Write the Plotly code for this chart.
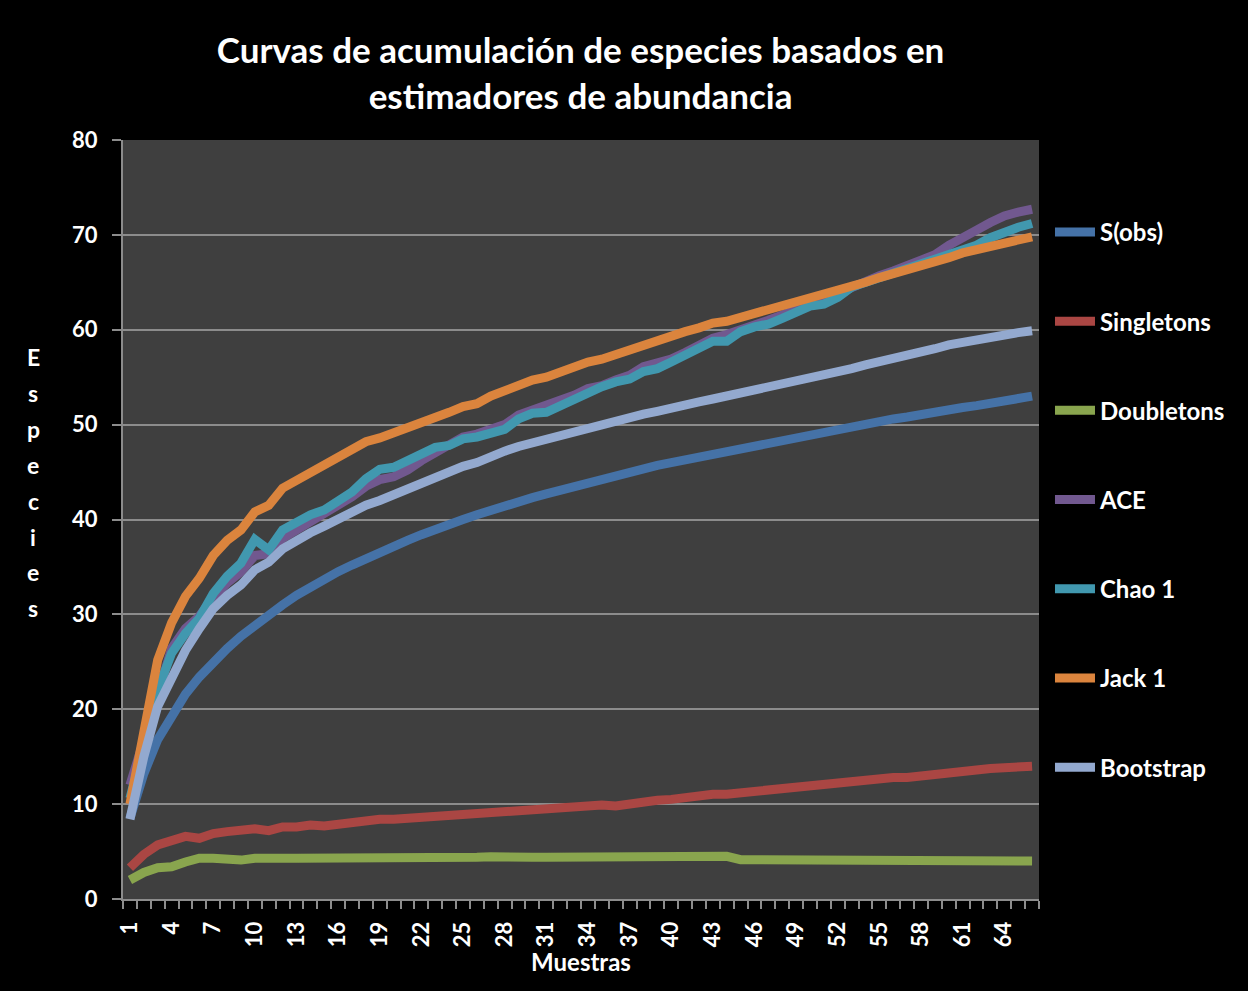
import plotly.graph_objects as go

muestras = list(range(1, 67))

s_obs = [8.5, 13.2, 16.8, 19.4, 21.6, 23.4, 25.0, 26.4, 27.7, 28.9,
         30.0, 31.0, 32.0, 32.9, 33.7, 34.5, 35.2, 35.9, 36.6, 37.2,
         37.8, 38.4, 39.0, 39.5, 40.0, 40.5, 41.0, 41.5, 41.9, 42.3,
         42.7, 43.1, 43.5, 43.9, 44.3, 44.6, 45.0, 45.3, 45.7, 46.0,
         46.3, 46.6, 46.9, 47.2, 47.5, 47.8, 48.1, 48.4, 48.7, 49.0,
         49.2, 49.5, 49.8, 50.0, 50.3, 50.6, 50.8, 51.1, 51.3, 51.6,
         51.8, 52.0, 52.3, 52.5, 52.7, 53.0]

singletons = [3.3, 4.7, 5.7, 6.1, 6.6, 6.4, 6.9, 7.1, 7.2, 7.4,
              7.2, 7.6, 7.6, 7.8, 7.7, 7.9, 8.1, 8.2, 8.4, 8.4,
              8.5, 8.7, 8.8, 8.9, 9.0, 9.1, 9.1, 9.2, 9.3, 9.4,
              9.4, 9.5, 9.6, 9.8, 9.9, 9.8, 10.0, 10.35, 10.4, 10.5,
              10.7, 10.9, 11.05, 11.05, 11.2, 11.4, 11.5, 11.6, 11.8, 12.0,
              12.0, 12.2, 12.35, 12.5, 12.6, 12.8, 12.8, 13.0, 13.1, 13.3,
              13.5, 13.6, 13.75, 13.9, 13.95, 14.0]

doubletons = [2.0, 2.8, 3.3, 3.4, 3.9, 4.3, 4.3, 4.1, 4.1, 4.3,
              4.4, 4.3, 4.3, 4.3, 4.2, 4.3, 4.3, 4.3, 4.2, 4.2,
              4.3, 4.3, 4.4, 4.4, 4.4, 4.4, 4.45, 4.5, 4.4, 4.4,
              4.4, 4.4, 4.4, 4.4, 4.35, 4.3, 4.35, 4.4, 4.45, 4.4,
              4.3, 4.3, 4.4, 4.5, 4.15, 4.15, 4.1, 4.1, 4.05, 4.1,
              4.1, 4.0, 4.0, 4.05, 4.1, 4.1, 4.05, 4.05, 4.05, 4.1,
              4.15, 4.15, 4.0, 4.0, 4.0, 4.0]

ace = [12.0, 16.5, 21.5, 26.4, 28.5, 29.8, 31.8, 33.3, 34.5, 36.2,
       36.4, 38.0, 38.9, 39.8, 40.5, 41.4, 42.4, 43.5, 44.2, 44.5,
       45.2, 46.2, 47.0, 47.8, 48.7, 49.0, 49.6, 50.0, 51.0, 51.5,
       51.9, 52.4, 53.1, 53.8, 54.1, 54.7, 55.2, 56.1, 56.4, 56.9,
       57.6, 58.4, 59.1, 59.5, 60.1, 60.5, 61.0, 61.5, 62.1, 62.7,
       63.2, 63.8, 64.5, 65.1, 65.7, 66.2, 66.7, 67.2, 67.9, 68.9,
       69.8, 70.5, 71.3, 72.0, 72.4, 72.7]

chao1 = [10.6, 16.2, 22.0, 25.9, 28.0, 29.6, 32.2, 34.0, 35.4, 37.9,
         36.8, 38.9, 39.8, 40.5, 41.0, 42.0, 42.9, 44.3, 45.3, 45.5,
         46.2, 47.1, 47.6, 47.8, 48.5, 48.7, 49.1, 49.5, 50.6, 51.2,
         51.3, 52.0, 52.8, 53.5, 54.0, 54.5, 54.8, 55.6, 55.9, 56.6,
         57.4, 58.2, 58.8, 58.8, 59.8, 60.3, 60.6, 61.2, 61.9, 62.5,
         62.7, 63.4, 64.5, 65.0, 65.5, 66.0, 66.5, 66.9, 67.5, 68.1,
         68.5, 68.9, 69.7, 70.3, 70.8, 71.2]

jack1 = [10.0, 17.5, 25.2, 29.1, 31.9, 33.8, 36.2, 37.8, 38.9, 40.8,
         41.5, 43.3, 44.1, 45.1, 45.7, 46.5, 47.4, 48.2, 48.6, 49.1,
         49.6, 50.2, 50.8, 51.3, 51.9, 52.2, 53.0, 53.6, 54.2, 54.7,
         55.0, 55.6, 56.1, 56.6, 56.9, 57.4, 57.8, 58.5, 58.9, 59.4,
         59.8, 60.2, 60.7, 60.9, 61.3, 61.7, 62.1, 62.6, 63.0, 63.4,
         63.6, 64.1, 64.6, 65.0, 65.5, 65.9, 66.2, 66.7, 67.1, 67.6,
         68.1, 68.4, 68.9, 69.2, 69.5, 69.8]

bootstrap = [8.4, 15.0, 20.3, 23.4, 26.2, 28.5, 30.6, 32.0, 33.1, 34.7,
             35.5, 36.9, 37.8, 38.6, 39.3, 40.1, 40.8, 41.5, 42.0, 42.6,
             43.3, 44.0, 44.6, 45.1, 45.6, 46.0, 46.7, 47.2, 47.7, 48.1,
             48.5, 48.9, 49.3, 49.7, 50.0, 50.4, 50.7, 51.1, 51.4, 51.8,
             52.1, 52.4, 52.7, 53.0, 53.3, 53.6, 53.9, 54.2, 54.6, 55.0,
             55.3, 55.6, 55.9, 56.3, 56.6, 57.0, 57.3, 57.6, 58.0, 58.4,
             58.7, 59.0, 59.2, 59.5, 59.7, 59.9]

series_names = ["S(obs)", "Singletons", "Doubletons", "ACE", "Chao 1", "Jack 1", "Bootstrap"]
series_values = [s_obs, singletons, doubletons, ace, chao1, jack1, bootstrap]
series_colors = ["#4572A7", "#AA4643", "#89A54E", "#71588F", "#4198AF", "#DB843D", "#93A9CF"]

x_tick_vals = list(range(1, 67, 3))
x_tick_text = [str(v) for v in x_tick_vals]
y_tick_vals = list(range(0, 81, 10))
y_title_letters = list("Especies")

FONT = "Lato"
GRID = "#8C8C8C"

fig = go.Figure()
for name, vals, col in zip(series_names, series_values, series_colors):
    fig.add_trace(go.Scatter(
        x=muestras, y=vals, name=name, mode="lines", legendgroup=name,
        line=dict(color=col, width=9),
    ))

annotations = []
for k, ch in enumerate(y_title_letters):
    ypix = 357 + k * 35.9
    annotations.append(dict(
        text="<b>" + ch + "</b>", xref="paper", yref="paper",
        x=(33 - 123) / 917, y=(899 - ypix) / 759,
        xanchor="center", yanchor="middle", showarrow=False,
        font=dict(family=FONT, size=23, color="white"),
    ))

fig.update_layout(
    width=1248, height=991,
    paper_bgcolor="#000000", plot_bgcolor="#3F3F3F",
    margin=dict(l=123, r=209, t=140, b=92),
    font=dict(family=FONT, color="white", size=20),
    title=dict(
        text="<b>Curvas de acumulación de especies basados en<br>estimadores de abundancia</b>",
        x=0.4995, xanchor="center", xref="paper",
        y=1 - 63 / 991, yanchor="middle", yref="container",
        font=dict(family=FONT, size=35, color="white"),
    ),
    showlegend=True,
    legend=dict(
        x=1.012, xanchor="left", y=0.908, yanchor="top",
        bgcolor="rgba(0,0,0,0)",
        font=dict(family=FONT, size=24, color="white", weight="bold"),
        tracegroupgap=55, itemwidth=40,
    ),
    xaxis=dict(
        range=[0.5, 66.5], tickmode="array", tickvals=x_tick_vals, ticktext=x_tick_text,
        tickangle=-90, ticks="", showgrid=False, zeroline=False,
        showline=True, linecolor=GRID, linewidth=2,
        ticklabelstandoff=12,
        tickfont=dict(family=FONT, size=22, color="white", weight="bold"),
        minor=dict(tickmode="linear", tick0=0.5, dtick=1, ticks="outside", ticklen=8,
                   tickcolor=GRID, tickwidth=2, showgrid=False),
        title=dict(text="<b>Muestras</b>", font=dict(family=FONT, size=24, color="white"), standoff=8),
    ),
    yaxis=dict(
        range=[0, 80], tickmode="array", tickvals=y_tick_vals,
        ticks="outside", ticklen=9, tickcolor=GRID, tickwidth=2,
        showgrid=True, gridcolor=GRID, gridwidth=2, zeroline=False,
        showline=True, linecolor=GRID, linewidth=2,
        ticklabelstandoff=10,
        tickfont=dict(family=FONT, size=22, color="white", weight="bold"),
    ),
    annotations=annotations,
)

fig.write_html("out.html")
